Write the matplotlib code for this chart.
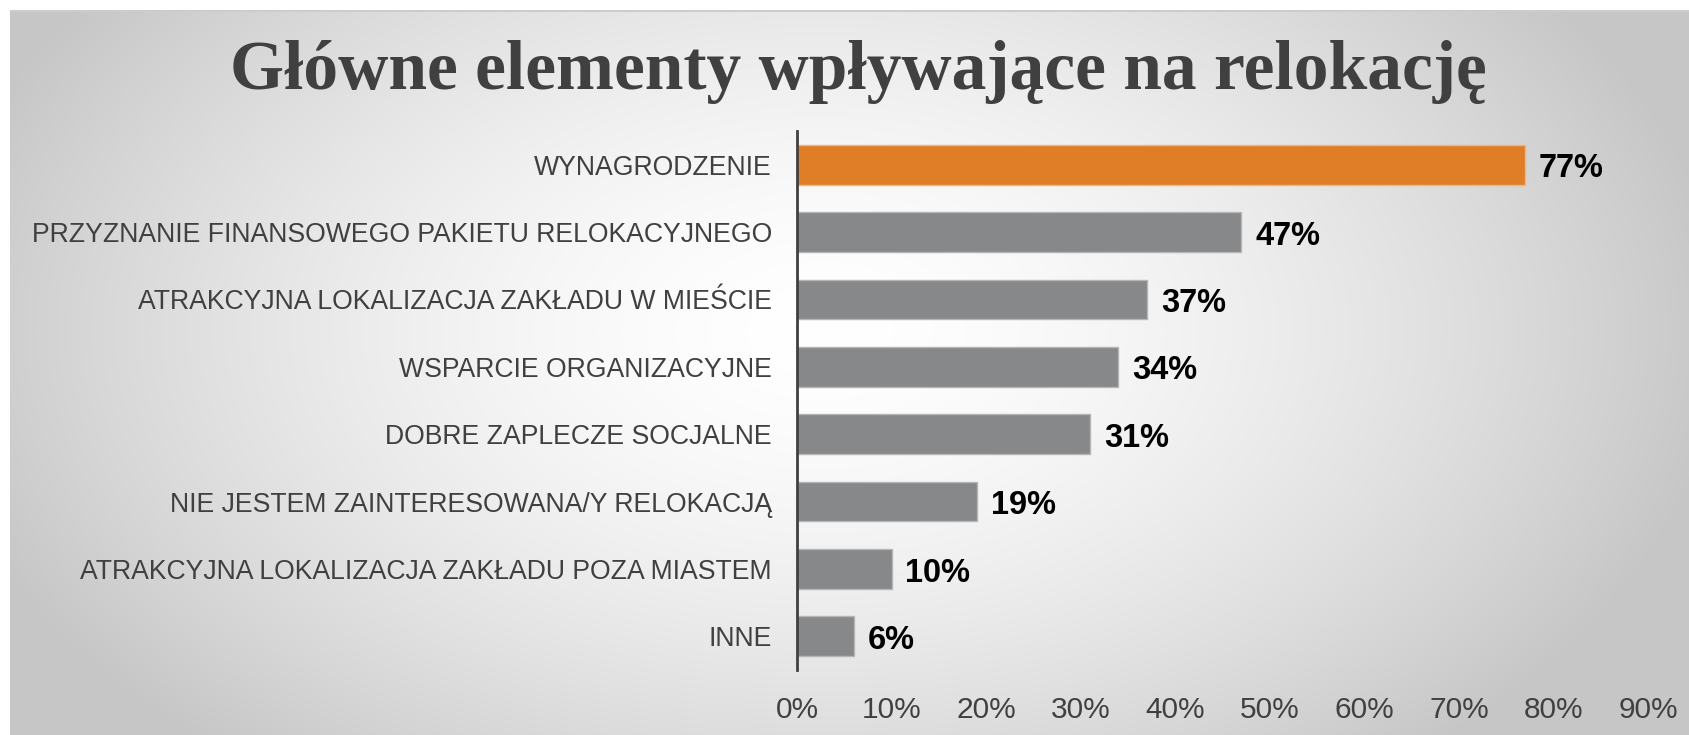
import numpy as np
import matplotlib.pyplot as plt

categories = [
    "WYNAGRODZENIE",
    "PRZYZNANIE FINANSOWEGO PAKIETU RELOKACYJNEGO",
    "ATRAKCYJNA LOKALIZACJA ZAKŁADU W MIEŚCIE",
    "WSPARCIE ORGANIZACYJNE",
    "DOBRE ZAPLECZE SOCJALNE",
    "NIE JESTEM ZAINTERESOWANA/Y RELOKACJĄ",
    "ATRAKCYJNA LOKALIZACJA ZAKŁADU POZA MIASTEM",
    "INNE",
]
values = [77, 47, 37, 34, 31, 19, 10, 6]
xticks = [0, 10, 20, 30, 40, 50, 60, 70, 80, 90]
title = "Główne elementy wpływające na relokację"

W, H = 1690, 735
fig = plt.figure(figsize=(W / 100, H / 100), dpi=100)

# --- background: soft radial grey gradient, white strip top/left ---
yy, xx = np.mgrid[0:H, 0:W]
r = np.sqrt(((xx - 820) / 900) ** 2 + ((yy - 330) / 560) ** 2)
val = 1 - 0.22 * np.clip(r, 0, 1) ** 1.6
val[:10, :] = 1.0
val[10:12, 10:] = 0.80
val[:, :10] = 1.0
bg = np.dstack([val, val, val])
bax = fig.add_axes([0, 0, 1, 1], zorder=-1)
bax.imshow(bg, extent=[0, W, H, 0], aspect="auto", interpolation="bilinear")
bax.axis("off")

# --- bars ---
ax = fig.add_axes([797 / W, 1 - 670 / H, (1648 - 797) / W, (670 - 131) / H])
ax.set_facecolor("none")
y = np.arange(len(categories))
colors = ["#E07E27"] + ["#87888A"] * (len(categories) - 1)
edges = ["#F2B57A"] + ["#B5B5B5"] * (len(categories) - 1)
ax.barh(y, values, height=0.59, color=colors, edgecolor=edges, linewidth=1)
ax.set_ylim(len(categories) - 0.5, -0.5)
ax.set_xlim(0, 90)

for yi, v in zip(y, values):
    ax.annotate(f"{v}%", (v, yi), xytext=(10, -3), textcoords="offset points",
                va="center", ha="left", fontsize=23.5, fontweight="bold",
                family="Liberation Sans", color="#000000")

ax.set_yticks(y)
ax.set_yticklabels(categories, fontsize=19.2, family="Liberation Sans", color="#404040")
ax.set_xticks(xticks)
ax.set_xticklabels([f"{t}%" for t in xticks], fontsize=21.5, family="Liberation Sans",
                   color="#404040")
ax.tick_params(axis="y", length=0, pad=18)
ax.tick_params(axis="x", length=0, pad=19)
for s in ["top", "right", "bottom"]:
    ax.spines[s].set_visible(False)
ax.spines["left"].set_color("#404040")
ax.spines["left"].set_linewidth(2)

fig.text(858 / W, 1 - 89 / H, title, ha="center", va="baseline",
         fontsize=50, fontweight="bold", family="Liberation Serif", color="#404040")

fig.savefig("out.png", dpi=100)
